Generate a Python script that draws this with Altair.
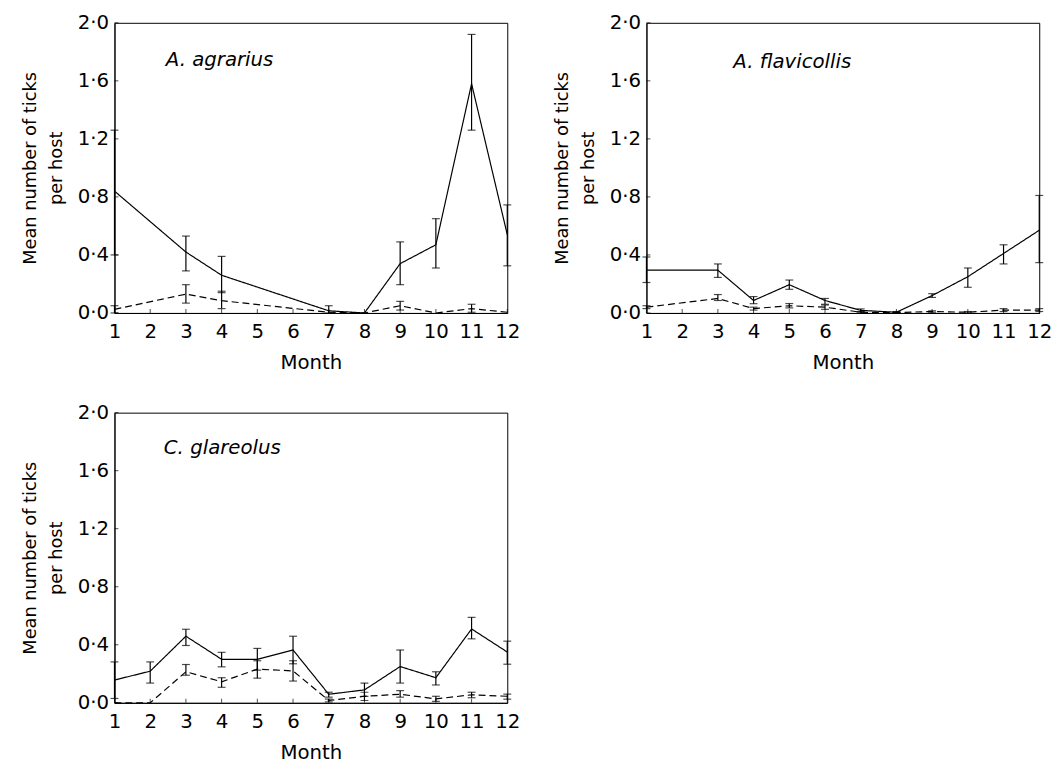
import altair as alt
import pandas as pd

MONTHS = list(range(1, 13))
Y_TICKS = [0.0, 0.4, 0.8, 1.2, 1.6, 2.0]
SERIES = ["solid", "dashed"]

# ---- A. agrarius ----
AG_NAME = "A. agrarius"
AG_S_MEAN = [0.84, None, 0.42, 0.26, None, None, 0.015, 0.0, 0.34, 0.47, 1.58, 0.54]
AG_S_LO = [0.40, None, 0.29, 0.14, None, None, 0.0, None, 0.195, 0.31, 1.26, 0.325]
AG_S_HI = [1.26, None, 0.53, 0.39, None, None, 0.05, None, 0.49, 0.65, 1.92, 0.745]
AG_D_MEAN = [0.025, None, 0.13, 0.085, None, None, 0.005, 0.0, 0.05, 0.0, 0.03, 0.005]
AG_D_LO = [0.0, None, 0.068, 0.03, None, None, None, None, 0.02, None, 0.005, None]
AG_D_HI = [0.05, None, 0.195, 0.15, None, None, None, None, 0.08, None, 0.06, None]

# ---- A. flavicollis ----
AF_NAME = "A. flavicollis"
AF_S_MEAN = [0.295, None, 0.295, 0.086, 0.195, 0.086, 0.018, 0.005, 0.12, 0.25, 0.41, 0.57]
AF_S_LO = [0.21, None, 0.245, 0.064, 0.163, 0.06, 0.008, 0.0, 0.107, 0.177, 0.338, 0.347]
AF_S_HI = [0.386, None, 0.338, 0.113, 0.227, 0.10, 0.028, 0.01, 0.133, 0.31, 0.47, 0.81]
AF_D_MEAN = [0.04, None, 0.10, 0.03, 0.05, 0.04, 0.005, 0.003, 0.01, 0.005, 0.02, 0.02]
AF_D_LO = [0.03, None, 0.086, 0.02, 0.035, 0.025, 0.0, 0.0, 0.005, 0.0, 0.01, 0.01]
AF_D_HI = [0.05, None, 0.127, 0.04, 0.065, 0.055, 0.01, 0.006, 0.015, 0.01, 0.03, 0.03]

# ---- C. glareolus ----
CG_NAME = "C. glareolus"
CG_S_MEAN = [0.157, 0.218, 0.459, 0.30, 0.30, 0.364, 0.059, 0.089, 0.25, 0.173, 0.509, 0.35]
CG_S_LO = [0.03, 0.136, 0.395, 0.248, 0.225, 0.269, 0.039, 0.045, 0.136, 0.123, 0.441, 0.266]
CG_S_HI = [0.282, 0.282, 0.507, 0.348, 0.375, 0.459, 0.073, 0.136, 0.364, 0.214, 0.589, 0.425]
CG_D_MEAN = [0.0, 0.0, 0.214, 0.145, 0.232, 0.22, 0.016, 0.045, 0.059, 0.027, 0.055, 0.045]
CG_D_LO = [None, None, 0.19, 0.107, 0.17, 0.15, 0.006, 0.016, 0.039, 0.01, 0.035, 0.025]
CG_D_HI = [None, None, 0.264, 0.173, 0.29, 0.29, 0.026, 0.073, 0.084, 0.045, 0.073, 0.06]

W, H = 398, 294
FONT = "DejaVu Sans"
DOT_FMT = "replace(format(datum.value, '.1f'), '.', '·')"


def build_df(s_mean, s_lo, s_hi, d_mean, d_lo, d_hi):
    rows = []
    for name, mean, lo, hi in (("solid", s_mean, s_lo, s_hi), ("dashed", d_mean, d_lo, d_hi)):
        for m, v, l, h in zip(MONTHS, mean, lo, hi):
            if v is None:
                continue
            rows.append({"month": m, "mean": v, "lo": l, "hi": h, "series": name})
    return pd.DataFrame(rows)


XS = alt.Scale(domain=[1, 12], nice=False, zero=False)
YS = alt.Scale(domain=[0, 2], nice=False, zero=True)
XAXIS = alt.Axis(values=MONTHS, title="Month", labelFontSize=20, titleFontSize=20,
                 labelPadding=9, titlePadding=11, ticks=False, titleFontWeight="normal",
                 labelFlush=False, labelOverlap=False)
YAXIS = alt.Axis(values=Y_TICKS, title=["Mean number of ticks", "per host"],
                 labelFontSize=20, titleFontSize=18, labelPadding=6, titlePadding=12,
                 ticks=False, labelExpr=DOT_FMT, titleFontWeight="normal",
                 titleLineHeight=26, labelFlush=False, labelOverlap=False)


def X(field):
    return alt.X(field, type="quantitative", scale=XS, axis=XAXIS)


def Y(field):
    return alt.Y(field, type="quantitative", scale=YS, axis=YAXIS)


def panel(name, df, lab_x, lab_y):
    base = alt.Chart(df)
    line = base.mark_line(color="black", strokeWidth=1.2).encode(
        x=X("month"),
        y=Y("mean"),
        strokeDash=alt.StrokeDash("series:N", scale=alt.Scale(domain=SERIES, range=[[1, 0], [7, 4]]),
                                  legend=None),
        detail="series:N",
    )
    eb = base.transform_filter("isValid(datum.lo)")
    rule = eb.mark_rule(color="black", strokeWidth=1.2).encode(
        x=X("month"), y=Y("lo"), y2="hi:Q")
    cap_hi = eb.mark_tick(orient="horizontal", color="black", size=8, thickness=1.2).encode(
        x=X("month"), y=Y("hi"))
    cap_lo = eb.mark_tick(orient="horizontal", color="black", size=8, thickness=1.2).encode(
        x=X("month"), y=Y("lo"))
    yt = alt.Chart(pd.DataFrame({"v": Y_TICKS})).mark_tick(
        orient="horizontal", color="black", size=4, thickness=1).encode(
        y=Y("v"), x=alt.value(2))
    xt = alt.Chart(pd.DataFrame({"m": MONTHS})).mark_tick(
        orient="vertical", color="black", size=4, thickness=1).encode(
        x=X("m"), y=alt.value(H - 2))
    label = alt.Chart(pd.DataFrame({"t": [name]})).mark_text(
        align="left", baseline="middle", fontStyle="italic", fontSize=20, font=FONT,
        color="black").encode(text="t:N", x=alt.value(lab_x), y=alt.value(lab_y))
    return alt.layer(line, rule, cap_hi, cap_lo, yt, xt, label).properties(width=W, height=H)


p1 = panel(AG_NAME, build_df(AG_S_MEAN, AG_S_LO, AG_S_HI, AG_D_MEAN, AG_D_LO, AG_D_HI), 52, 38)
p2 = panel(AF_NAME, build_df(AF_S_MEAN, AF_S_LO, AF_S_HI, AF_D_MEAN, AF_D_LO, AF_D_HI), 88, 40)
p3 = panel(CG_NAME, build_df(CG_S_MEAN, CG_S_LO, CG_S_HI, CG_D_MEAN, CG_D_LO, CG_D_HI), 50, 36)

chart = alt.vconcat(alt.hconcat(p1, p2, spacing=32), p3, spacing=29).properties(
    padding={"left": 21, "top": 7, "right": 5, "bottom": 5},
    background="white",
).configure_axis(
    domainColor="black", labelColor="black", titleColor="black", grid=False,
    labelFont=FONT, titleFont=FONT, domainWidth=1, labelOverlap=False,
).configure_view(stroke="black", strokeWidth=1)

chart.save("out.html", embed_options={"renderer": "svg", "actions": False})
